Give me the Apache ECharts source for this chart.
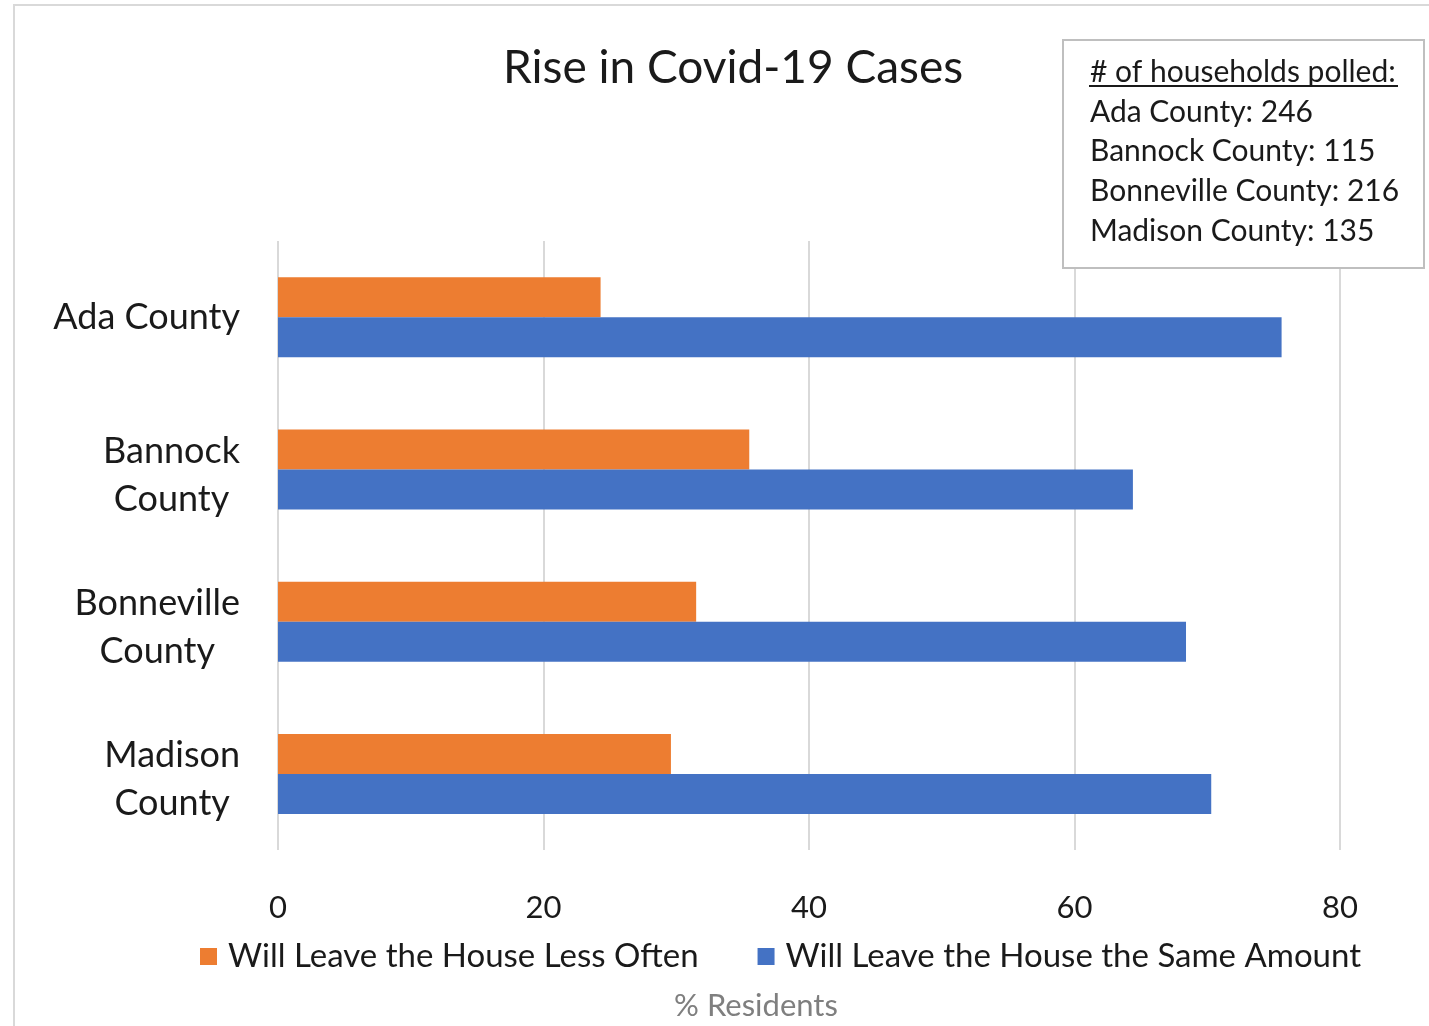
<!DOCTYPE html>
<html>
<head>
<meta charset="utf-8">
<script src="https://cdn.jsdelivr.net/npm/echarts@6/dist/echarts.min.js"></script>
<style>
  html, body { margin: 0; padding: 0; background: #fff; }
  #chart { width: 1429px; height: 1026px; }
</style>
</head>
<body>
<div id="chart"></div>
<script>
const counties = ['Ada County', 'Bannock\nCounty', 'Bonneville\nCounty', 'Madison\nCounty'];
const lessOften = [24.3, 35.5, 31.5, 29.6];
const sameAmount = [75.6, 64.4, 68.4, 70.3];
const seriesNames = ['Will Leave the House Less Often', 'Will Leave the House the Same Amount'];
const boxCounties = ['Ada County', 'Bannock County', 'Bonneville County', 'Madison County'];
const households = [246, 115, 216, 135];
const xTicks = [0, 20, 40, 60, 80];

const FONT = 'Lato';
const TEXT = '#1a1a1a';

const chart = echarts.init(document.getElementById('chart'), null, { renderer: 'canvas' });

// frame + households text box
const graphics = [
  {
    type: 'rect',
    shape: { x: 14, y: 5, width: 1500, height: 1100 },
    style: { fill: 'none', stroke: '#d9d9d9', lineWidth: 2 },
    silent: true
  },
  {
    type: 'rect',
    shape: { x: 1063, y: 40, width: 361, height: 228 },
    style: { fill: '#fff', stroke: '#bfbfbf', lineWidth: 2 },
    z: 10
  },
  {
    type: 'text',
    x: 1090, y: 72, z: 12,
    style: { text: '# of households polled:', font: '30px ' + FONT, fill: TEXT, verticalAlign: 'middle' }
  },
  {
    type: 'line',
    z: 12,
    shape: { x1: 1089, y1: 86, x2: 1398, y2: 86 },
    style: { stroke: TEXT, lineWidth: 2 }
  }
];
boxCounties.forEach((c, i) => {
  graphics.push({
    type: 'text',
    x: 1090, y: 112 + i * 39.7, z: 12,
    style: { text: c + ': ' + households[i], font: '30px ' + FONT, fill: TEXT, verticalAlign: 'middle' }
  });
});

const opt = {
  backgroundColor: '#fff',
  title: {
    text: 'Rise in Covid-19 Cases',
    left: 498, top: 40,
    textStyle: { fontFamily: FONT, fontSize: 46, fontWeight: 'normal', color: TEXT }
  },
  grid: { left: 278, right: 89, top: 241, bottom: 165 },
  legend: {
    bottom: 48,
    left: 195,
    itemWidth: 17, itemHeight: 17, itemGap: 59,
    icon: 'rect',
    textStyle: { fontFamily: FONT, fontSize: 33, color: TEXT, padding: [0, 0, 0, 6] },
    data: seriesNames
  },
  xAxis: {
    type: 'value',
    min: 0, max: 80, interval: 20,
    name: '% Residents',
    nameLocation: 'middle',
    nameGap: 140,
    nameTextStyle: { fontFamily: FONT, fontSize: 31, color: '#7f7f7f', padding: [0, 106, 0, 0] },
    axisLine: { show: false },
    axisTick: { show: false },
    axisLabel: {
      margin: 42, fontFamily: FONT, fontSize: 31, color: TEXT,
      formatter: v => xTicks.includes(v) ? String(v) : ''
    },
    splitLine: { show: true, lineStyle: { color: '#d9d9d9', width: 2 } }
  },
  yAxis: {
    type: 'category',
    inverse: true,
    data: counties,
    axisLine: { show: false },
    axisTick: { show: false },
    axisLabel: {
      margin: 38,
      align: 'right',
      formatter: v => {
        const lines = v.split('\n').map(l => '{c|' + l + '}');
        // wrapped labels sit a little lower in the original
        if (lines.length > 1) lines.unshift('{s|}');
        return lines.join('\n');
      },
      rich: {
        c: { align: 'center', fontFamily: FONT, fontSize: 36, lineHeight: 48, color: TEXT },
        s: { lineHeight: 12, fontSize: 1 }
      }
    }
  },
  series: [
    {
      name: seriesNames[0],
      type: 'bar',
      data: lessOften,
      barWidth: 40,
      barGap: '0%',
      itemStyle: { color: '#ED7D31' }
    },
    {
      name: seriesNames[1],
      type: 'bar',
      data: sameAmount,
      barWidth: 40,
      itemStyle: { color: '#4472C4' }
    }
  ],
  graphic: graphics
};

chart.setOption(opt);
</script>
</body>
</html>
